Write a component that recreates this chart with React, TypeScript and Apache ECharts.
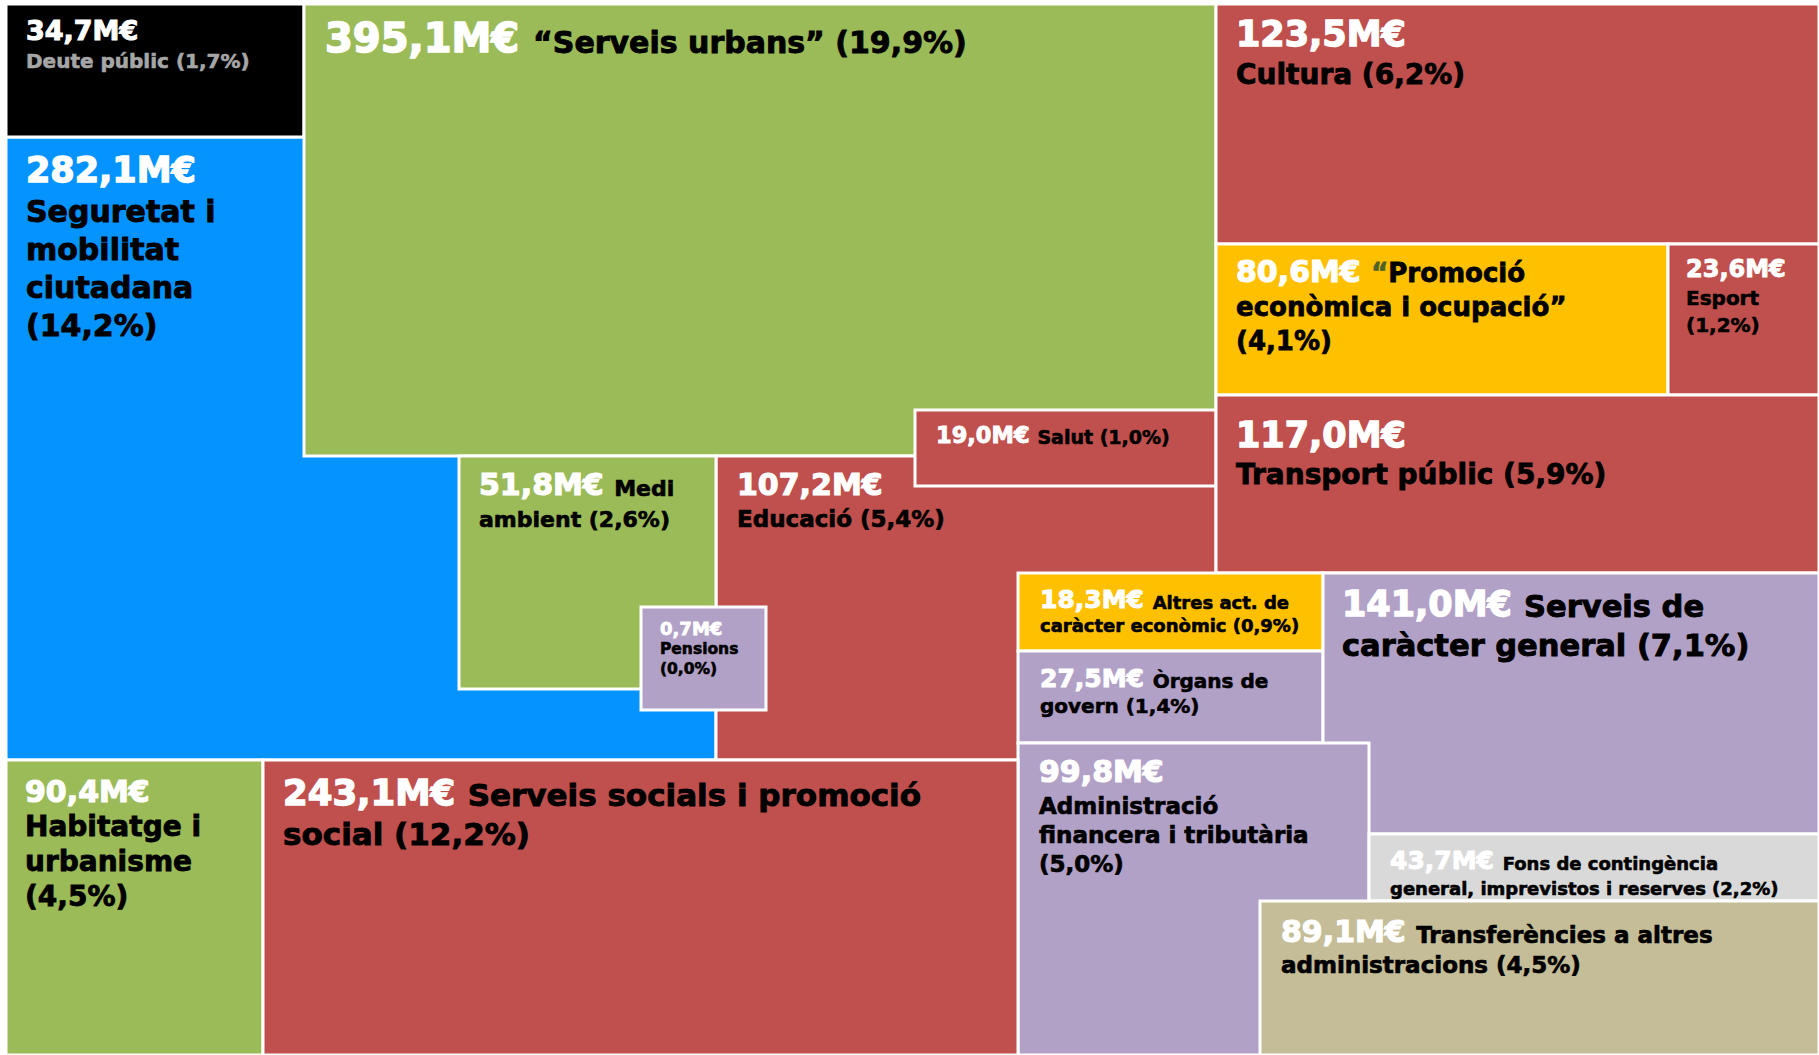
import React, { useEffect, useRef } from "react";
import * as echarts from "echarts";

const CHART_W = 1819;
const CHART_H = 1055;

// ---- data (draw order: lower cells first) ----
const categories = [
  "Seguretat i\nmobilitat\nciutadana",
  "Deute públic",
  "“Serveis urbans”",
  "Educació",
  "Salut",
  "Medi\nambient",
  "Pensions",
  "Cultura",
  "“Promoció\neconòmica i ocupació”",
  "Esport",
  "Transport públic",
  "Altres act. de\ncaràcter econòmic",
  "Òrgans de\ngovern",
  "Serveis de\ncaràcter general",
  "Administració\nfinancera i tributària",
  "Fons de contingència\ngeneral, imprevistos i reserves",
  "Transferències a altres\nadministracions",
  "Habitatge i\nurbanisme",
  "Serveis socials i promoció\nsocial",
];
const valuesM = [282.1, 34.7, 395.1, 107.2, 19.0, 51.8, 0.7, 123.5, 80.6, 23.6, 117.0, 18.3, 27.5, 141.0, 99.8, 43.7, 89.1, 90.4, 243.1];
const shares = [14.2, 1.7, 19.9, 5.4, 1.0, 2.6, 0.0, 6.2, 4.1, 1.2, 5.9, 0.9, 1.4, 7.1, 5.0, 2.2, 4.5, 4.5, 12.2];
const pctOnOwnLine = [true, false, false, false, false, false, true, false, true, true, false, false, false, false, true, false, false, true, false];
const valueInline = [false, false, true, false, true, true, false, false, true, false, false, true, true, true, false, true, true, false, true];

// ---- layout of the hand-arranged treemap (cell bounds in chart units) ----
const cellBounds = [
  [6, 137, 716, 760],
  [6, 4, 304, 137],
  [304, 4, 1216, 456],
  [716, 456, 1216, 760],
  [915, 410, 1216, 486],
  [459, 456, 716, 689],
  [641, 607, 766, 710],
  [1216, 4, 1819, 244],
  [1216, 244, 1668, 395],
  [1668, 244, 1819, 395],
  [1216, 395, 1819, 573],
  [1018, 573, 1323, 651],
  [1018, 651, 1323, 743],
  [1323, 573, 1819, 834],
  [1018, 743, 1369, 1055],
  [1369, 834, 1819, 901],
  [1260, 901, 1819, 1055],
  [6, 760, 263, 1055],
  [263, 760, 1018, 1055],
];

// ---- styles ----
const RED = "#C0504D";
const GREEN = "#9BBB59";
const BLUE = "#0593FF";
const YELLOW = "#FFC000";
const PURPLE = "#B2A1C7";
const cellColors = [BLUE, "#000000", GREEN, RED, RED, GREEN, PURPLE, RED, YELLOW, RED, RED, YELLOW, PURPLE, PURPLE, PURPLE, "#D9D9D9", "#C4BD97", GREEN, RED];
const nameColors = ["#000", "#A6A6A6", "#000", "#000", "#000", "#000", "#000", "#000", "#000", "#000", "#000", "#000", "#000", "#000", "#000", "#000", "#000", "#000", "#000"];
// dx: left padding, b1: first baseline from top, gap: value->name baseline, pitch: name line pitch, fv/fn: font sizes
const textStyles = [
  { dx: 20, b1: 46, gap: 39, pitch: 38, fv: 35, fn: 30 },
  { dx: 20, b1: 36, gap: 28, pitch: 28, fv: 27, fn: 20 },
  { dx: 21, b1: 48, gap: 0, pitch: 36, fv: 40, fn: 30 },
  { dx: 21, b1: 39, gap: 32, pitch: 32, fv: 30, fn: 23 },
  { dx: 21, b1: 33, gap: 0, pitch: 24, fv: 22.5, fn: 19 },
  { dx: 20, b1: 39, gap: 0, pitch: 32, fv: 30, fn: 22 },
  { dx: 19, b1: 28, gap: 20, pitch: 20, fv: 18, fn: 15.5 },
  { dx: 20, b1: 43, gap: 38, pitch: 34, fv: 35, fn: 28 },
  { dx: 20, b1: 38, gap: 0, pitch: 34, fv: 30, fn: 26, quote: "#4F6228" },
  { dx: 18, b1: 34, gap: 27, pitch: 27, fv: 24, fn: 20 },
  { dx: 20, b1: 53, gap: 37, pitch: 34, fv: 35, fn: 28 },
  { dx: 22, b1: 35, gap: 0, pitch: 24, fv: 25, fn: 18 },
  { dx: 22, b1: 36, gap: 0, pitch: 26, fv: 25, fn: 20 },
  { dx: 19, b1: 44, gap: 0, pitch: 40, fv: 35, fn: 30.5 },
  { dx: 21, b1: 39, gap: 32, pitch: 29, fv: 30, fn: 23 },
  { dx: 21, b1: 35, gap: 0, pitch: 26, fv: 25, fn: 18 },
  { dx: 21, b1: 41, gap: 0, pitch: 31, fv: 30, fn: 23 },
  { dx: 19, b1: 42, gap: 35, pitch: 35, fv: 30, fn: 28 },
  { dx: 20, b1: 46, gap: 0, pitch: 39, fv: 35.5, fn: 31 },
];

const FONT = '"DejaVu Sans", "Liberation Sans", sans-serif';
const fmt = (n: number) => n.toFixed(1).replace(".", ",");

function buildLines(i: number) {
  const nameLines = categories[i].split("\n");
  const pct = `(${fmt(shares[i])}%)`;
  if (pctOnOwnLine[i]) nameLines.push(pct);
  else nameLines[nameLines.length - 1] += " " + pct;
  return { val: fmt(valuesM[i]) + "M€", nameLines };
}

function renderItem(params: any, api: any) {
  const i = params.dataIndex;
  const p0 = api.coord([api.value(0), api.value(1)]);
  const p1 = api.coord([api.value(2), api.value(3)]);
  const x = p0[0];
  const y = p0[1];
  const w = p1[0] - p0[0];
  const h = p1[1] - p0[1];
  const t: any = textStyles[i];
  const nameColor = nameColors[i];
  const thickV = Math.max(0.8, t.fv * 0.04);
  const thickN = Math.max(0.6, t.fn * 0.03);
  const rich: any = {
    v: { fontSize: t.fv, fontFamily: FONT, fontWeight: "bold", fill: "#fff", stroke: "#fff", lineWidth: thickV, lineHeight: t.fv, verticalAlign: "bottom" },
    n: { fontSize: t.fn, fontFamily: FONT, fontWeight: "bold", fill: nameColor, stroke: nameColor, lineWidth: thickN, lineHeight: 0.72 * t.fn + 0.28 * t.fv, verticalAlign: "bottom" },
    q: { fontSize: t.fn, fontFamily: FONT, fontWeight: "bold", fill: t.quote || nameColor, stroke: t.quote || nameColor, lineWidth: thickN, lineHeight: 0.72 * t.fn + 0.28 * t.fv, verticalAlign: "bottom" },
    m: { fontSize: t.fn, fontFamily: FONT, fontWeight: "bold", fill: nameColor, stroke: nameColor, lineWidth: thickN, lineHeight: t.fn, verticalAlign: "bottom" },
  };
  const { val, nameLines } = buildLines(i);
  const children: any[] = [
    { type: "rect", shape: { x, y, width: w, height: h }, style: { fill: cellColors[i], stroke: "#fff", lineWidth: 3 } },
  ];
  const tx = x + t.dx;
  const pushLine = (text: string, baseline: number, f: number) => {
    children.push({
      type: "text",
      x: tx,
      y: baseline + 0.14 * f,
      style: { text, rich, align: "left", verticalAlign: "bottom", fontFamily: FONT },
    });
  };
  const wrapName = (s: string, style: string) => {
    if (t.quote && s.startsWith("“")) return `{q|“}{${style}|${s.slice(1)}}`;
    return `{${style}|${s}}`;
  };
  if (valueInline[i]) {
    pushLine(`{v|${val} }` + wrapName(nameLines[0], "n"), y + t.b1, t.fv);
    for (let k = 1; k < nameLines.length; k++) {
      pushLine(wrapName(nameLines[k], "m"), y + t.b1 + k * t.pitch, t.fn);
    }
  } else {
    pushLine(`{v|${val}}`, y + t.b1, t.fv);
    for (let k = 0; k < nameLines.length; k++) {
      pushLine(wrapName(nameLines[k], "m"), y + t.b1 + t.gap + k * t.pitch, t.fn);
    }
  }
  return { type: "group", children };
}

export default function App() {
  const ref = useRef<HTMLDivElement>(null);
  useEffect(() => {
    if (!ref.current) return;
    const chart = echarts.init(ref.current, undefined, { renderer: "svg" });
    chart.setOption({
      animation: false,
      backgroundColor: "#ffffff",
      grid: { left: 0, right: 0, top: 0, bottom: 0 },
      xAxis: { type: "value", min: 0, max: CHART_W, show: false },
      yAxis: { type: "value", min: 0, max: CHART_H, inverse: true, show: false },
      series: [
        {
          type: "custom",
          silent: true,
          renderItem,
          encode: { x: [0, 2], y: [1, 3] },
          data: cellBounds.map((b, i) => [b[0], b[1], b[2], b[3], valuesM[i]]),
        },
      ],
    });
    return () => chart.dispose();
  }, []);
  return (
    <div
      ref={ref}
      style={{ position: "absolute", left: 0, top: 0, width: CHART_W, height: CHART_H, background: "#fff" }}
    />
  );
}
